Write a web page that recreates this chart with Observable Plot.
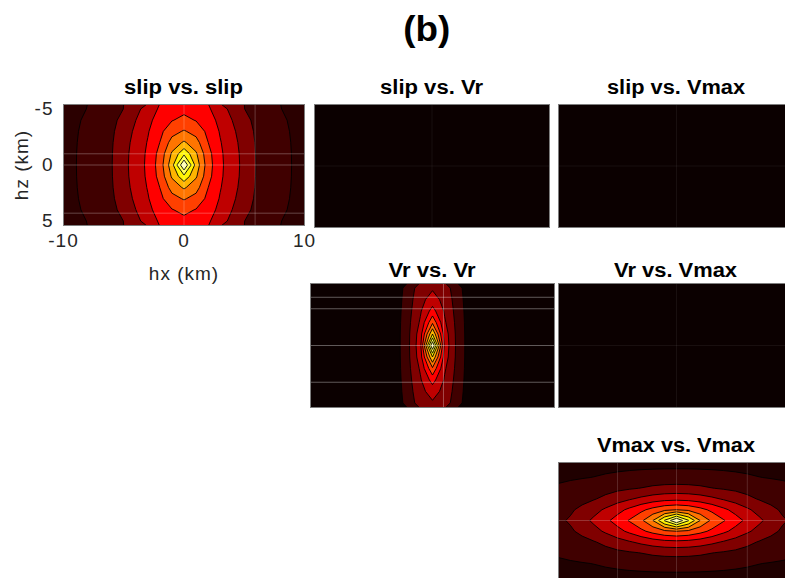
<!DOCTYPE html>
<html>
<head>
<meta charset="utf-8">
<script src="https://cdn.jsdelivr.net/npm/d3@7"></script>
<script src="https://cdn.jsdelivr.net/npm/@observablehq/plot@0.6"></script>
<style>
  html, body { margin: 0; padding: 0; background: #fff; }
  #fig { position: relative; width: 785px; height: 578px; overflow: hidden; background: #fff; }
  #fig svg { position: absolute; }
</style>
</head>
<body>
<div id="fig"></div>
<script>
// ---- lag axes (km) ----
const hxTicks = [-10, 0, 10];
const hzTicks = [-5, 0, 5];
const hxRange = [-10, 10];
const hzRange = [-5.4, 5.4];
// sampling nodes of the correlation functions
const hxNodes = [-10, -9, -8, -7, -6, -5, -4, -3, -2, -1, 0, 1, 2, 3, 4, 5, 6, 7, 8, 9, 10];
const hzNodes = [-5, -4, -3, -2, -1, 0, 1, 2, 3, 4, 5];

// ---- autocorrelation of slip ----
// contour levels (outermost first), with each contour's half-extent along hx and along hz (km)
const slipLevels  = [0.145, 0.231, 0.316, 0.402, 0.487, 0.573, 0.658, 0.744, 0.829, 0.915];
const slipHx      = [8.85, 5.9, 4.65, 3.2, 2.27, 1.67, 1.2, 0.87, 0.55, 0.28];
const slipHz      = [12, 9.5, 7.8, 7.0, 4.3, 3.1, 2.1, 1.4, 0.88, 0.5];
const slipShape   = [2, 2];        // exponents along hx, hz (2 = ellipse)
const slipMin     = 0.06;          // lower end of the colour axis
const slipEdge    = 0.105;         // correlation at the edge of the window
const slipEdgeLag = [12, 16];      // extent (hx, hz) where it is reached

// ---- autocorrelation of rupture velocity Vr ----
const vrLevels  = [0.091, 0.182, 0.273, 0.364, 0.455, 0.545, 0.636, 0.727, 0.818, 0.909];
const vrHx      = [2.55, 1.85, 1.16, 0.91, 0.78, 0.65, 0.52, 0.39, 0.26, 0.13];
const vrHz      = [13, 8.5, 4.5, 3.34, 2.47, 1.9, 1.45, 1.0, 0.6, 0.3];
const vrShape   = [2, 2];
const vrMin     = 0.0;
const vrEdge    = 0.0;
const vrEdgeLag = [3.6, 18];

// ---- autocorrelation of peak slip velocity Vmax ----
const vmaxLevels  = [0.127, 0.215, 0.302, 0.389, 0.476, 0.564, 0.651, 0.738, 0.825, 0.913];
const vmaxHx      = [16, 9.14, 7.35, 5.6, 4.1, 2.7, 2.0, 1.46, 1.04, 0.62];
const vmaxHz      = [4.65, 3.26, 2.42, 1.86, 1.4, 1.0, 0.77, 0.56, 0.37, 0.25];
const vmaxShape   = [2, 1.5];
const vmaxMin     = 0.04;
const vmaxEdge    = 0.078;
const vmaxEdgeLag = [20, 6.5];

// ---- cross-correlations (uncorrelated fields) ----
const crossSlipVr   = 0;
const crossSlipVmax = 0;
const crossVrVmax   = 0;

// light grid lines drawn over each autocorrelation panel (km)
const slipGridX = [0, 5.9];
const slipGridZ = [-1, 0, 4.3];
const vrGridX   = [0.9];
const vrGridZ   = [-4.2, -3.2, 0, 3.2];
const vmaxGridX = [-5, 0, 6];
const vmaxGridZ = [0];

// panel titles
const titles = ["slip vs. slip", "slip vs. Vr", "slip vs. Vmax", "Vr vs. Vr", "Vr vs. Vmax", "Vmax vs. Vmax"];
const figLabel = "(b)";

// MATLAB-style "hot" colormap (64 entries)
function hot(t) {
  const i = Math.max(0, Math.min(63, Math.floor(t * 64)));
  const r = Math.min(1, (i + 1) / 24);
  const g = Math.max(0, Math.min(1, (i + 1 - 24) / 24));
  const b = Math.max(0, Math.min(1, (i + 1 - 48) / 16));
  return `rgb(${Math.round(r * 255)},${Math.round(g * 255)},${Math.round(b * 255)})`;
}

// Correlation on the lag grid. Each level is a closed curve
// |hx/ax|^p + |hz/az|^q = 1 through its two half-extents; a node takes the
// level of the curve passing through it (curves blend linearly between levels).
function correlationGrid(levels, hxExt, hzExt, [p, q], edgeVal, [axEdge, azEdge]) {
  const A = [0, ...hxExt.slice().reverse(), axEdge];
  const B = [0, ...hzExt.slice().reverse(), azEdge];
  const V = [1, ...levels.slice().reverse(), edgeVal];
  const M = A.length - 1;
  const at = (arr, t) => {
    const k = Math.min(M - 1, Math.floor(t));
    return arr[k] + (t - k) * (arr[k + 1] - arr[k]);
  };
  const g = (hx, hz, t) => Math.pow(Math.abs(hx) / at(A, t), p) + Math.pow(Math.abs(hz) / at(B, t), q);
  const out = [];
  for (const hz of hzNodes) {
    for (const hx of hxNodes) {
      if (hx === 0 && hz === 0) { out.push(1); continue; }
      if (g(hx, hz, M) > 1) { out.push(edgeVal); continue; }
      let lo = 1e-6, hi = M;
      for (let it = 0; it < 60; ++it) {
        const mid = (lo + hi) / 2;
        if (g(hx, hz, mid) > 1) lo = mid; else hi = mid;
      }
      out.push(at(V, (lo + hi) / 2));
    }
  }
  return out;
}

const fig = document.getElementById("fig");
function place(svg, left, top) {
  svg.style.left = left + "px";
  svg.style.top = top + "px";
  fig.appendChild(svg);
}

const baseStyle = {
  fontFamily: "'Liberation Sans', Arial, Helvetica, sans-serif",
  fontSize: "19px",
  letterSpacing: "1px",
  color: "#262626",
  background: "transparent",
  overflow: "visible"
};
const colorScale = (lo) => ({type: "linear", domain: [lo, 1], interpolate: hot});
const frameStroke = "#7d7d7d";

function autoMarks(levels, hxExt, hzExt, shape, edgeVal, edgeLag, gx, gy, gridOpacity) {
  const values = correlationGrid(levels, hxExt, hzExt, shape, edgeVal, edgeLag);
  return [
    Plot.contour(values, {
      width: hxNodes.length,
      height: hzNodes.length,
      x1: hxNodes[0] - 0.5,
      x2: hxNodes[hxNodes.length - 1] + 0.5,
      y1: hzNodes[0] - 0.5,
      y2: hzNodes[hzNodes.length - 1] + 0.5,
      fill: Plot.identity,
      thresholds: [edgeVal, ...levels],
      stroke: "#000",
      strokeWidth: 0.9,
      clip: true
    }),
    Plot.ruleX(gx, {stroke: "#fff", strokeOpacity: gridOpacity, strokeWidth: 1}),
    Plot.ruleY(gy, {stroke: "#fff", strokeOpacity: gridOpacity + 0.05, strokeWidth: 1}),
    Plot.frame({stroke: frameStroke, strokeWidth: 1})
  ];
}

function crossMarks(value) {
  return [
    Plot.frame({fill: hot(value)}),
    Plot.ruleX([0], {stroke: "#fff", strokeOpacity: 0.06}),
    Plot.ruleY([0], {stroke: "#fff", strokeOpacity: 0.06}),
    Plot.frame({stroke: frameStroke, strokeWidth: 1})
  ];
}

// panel without axes; (fx, fy) = top-left of the frame, (fw, fh) its size
function bare(fx, fy, fw, fh, lo, marks) {
  const svg = Plot.plot({
    width: fw + 2, height: fh + 2,
    marginLeft: 1, marginRight: 1, marginTop: 1, marginBottom: 1,
    style: baseStyle,
    x: {domain: hxRange, axis: null},
    y: {domain: hzRange, reverse: true, axis: null},
    color: colorScale(lo),
    marks
  });
  place(svg, fx - 1, fy - 1);
}

// slip vs. slip, with axes
const p1 = Plot.plot({
  width: 324, height: 201,
  marginLeft: 63, marginRight: 20, marginTop: 10, marginBottom: 70,
  style: baseStyle,
  x: {domain: hxRange, ticks: hxTicks, tickSize: 0, tickPadding: 8, tickFormat: d => String(d),
      label: "hx (km)", labelArrow: "none", labelAnchor: "center", labelOffset: 54},
  y: {domain: hzRange, reverse: true, ticks: hzTicks, tickSize: 0, tickPadding: 10, tickFormat: d => String(d),
      label: "hz (km)", labelArrow: "none", labelAnchor: "center", labelOffset: 49},
  color: colorScale(slipMin),
  marks: autoMarks(slipLevels, slipHx, slipHz, slipShape, slipEdge, slipEdgeLag, slipGridX, slipGridZ, 0.22)
});
place(p1, 0, 94);

bare(314, 104, 235, 123, 0, crossMarks(crossSlipVr));
bare(558, 104, 236, 123, 0, crossMarks(crossSlipVmax));
bare(310, 283, 244, 124, vrMin,
  autoMarks(vrLevels, vrHx, vrHz, vrShape, vrEdge, vrEdgeLag, vrGridX, vrGridZ, 0.3));
bare(558, 283, 236, 124, 0, crossMarks(crossVrVmax));
bare(558, 462, 236, 116, vmaxMin,
  autoMarks(vmaxLevels, vmaxHx, vmaxHz, vmaxShape, vmaxEdge, vmaxEdgeLag, vmaxGridX, vmaxGridZ, 0.15));

// titles
const overlay = d3.create("svg")
  .attr("width", 785).attr("height", 578)
  .style("left", "0px").style("top", "0px")
  .style("pointer-events", "none")
  .attr("font-family", "'Liberation Sans', Arial, Helvetica, sans-serif")
  .attr("font-weight", "bold")
  .attr("fill", "#000");
const titleSpots = [
  [183.5, 94, 119], [431.5, 94, 103], [676, 94, 138],
  [432, 276.5, 87], [675.5, 276.5, 123], [676, 451.5, 158]
];
titles.forEach((t, i) => {
  const [cx, by, len] = titleSpots[i];
  overlay.append("text")
    .attr("x", cx).attr("y", by)
    .attr("text-anchor", "middle")
    .attr("font-size", 19.5)
    .attr("textLength", len)
    .attr("lengthAdjust", "spacingAndGlyphs")
    .text(t);
});
overlay.append("text")
  .attr("x", 426.7).attr("y", 41)
  .attr("text-anchor", "middle")
  .attr("font-size", 35)
  .attr("textLength", 47)
  .attr("lengthAdjust", "spacingAndGlyphs")
  .text(figLabel);
fig.appendChild(overlay.node());
</script>
</body>
</html>
